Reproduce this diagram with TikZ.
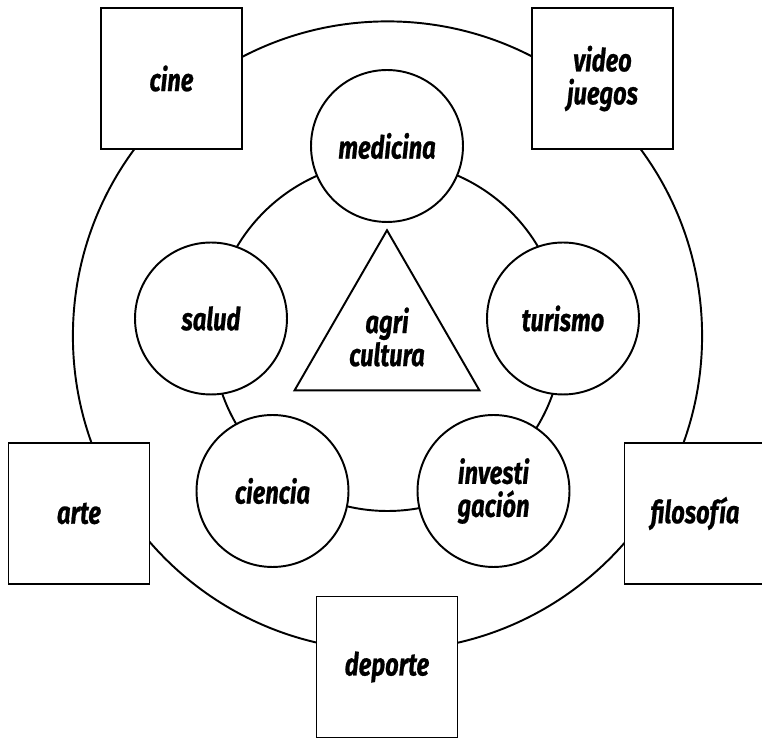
\documentclass[tikz,border=0pt]{standalone}
\usepackage{fontspec}
\setmainfont[FakeStretch=0.75, BoldItalicFeatures={FakeBold=0.6}]{Fira Sans}
\usetikzlibrary{shapes.geometric}

\tikzset{
  rotulo/.style={font=\bfseries\itshape\fontsize{18}{18.8}\selectfont, align=center},
  campo/.style={rotulo, draw, line width=1.1pt, fill=white, minimum size=2.82cm, inner sep=0pt},
  tema/.style={rotulo, circle, draw, line width=1.1pt, fill=white, minimum size=3.04cm, inner sep=0pt},
  nucleo/.style={rotulo, regular polygon, regular polygon sides=3, draw, line width=1.1pt, minimum size=4.09cm, inner sep=0pt}
}

\begin{document}
\begin{tikzpicture}[x=0.02cm,y=-0.02cm]
\useasboundingbox (0,0) rectangle (762,739);

\coordinate (centro) at (387.5,336);
\draw[line width=1.1pt] (centro) circle[radius=314.6];
\draw[line width=1.1pt] (centro) circle[radius=175];

\node[nucleo] (agricultura) at (387,337) {agri\\cultura};

\node[tema] (medicina) at (387,146) {medicina};
\node[tema] (salud) at (211,318.5) {salud};
\node[tema] (turismo) at (563,318.5) {turismo};
\node[tema] (ciencia) at (272.5,491) {ciencia};
\node[tema] (investigacion) at (493.5,491) {investi\\gación};

\node[campo] (cine) at (171.5,78.5) {cine};
\node[campo] (videojuegos) at (602.5,78.5) {video\\juegos};
\node[campo] (arte) at (79,513.5) {arte};
\node[campo] (filosofia) at (695,513.5) {filosofía};
\node[campo] (deporte) at (387,667) {deporte};

\end{tikzpicture}
\end{document}
